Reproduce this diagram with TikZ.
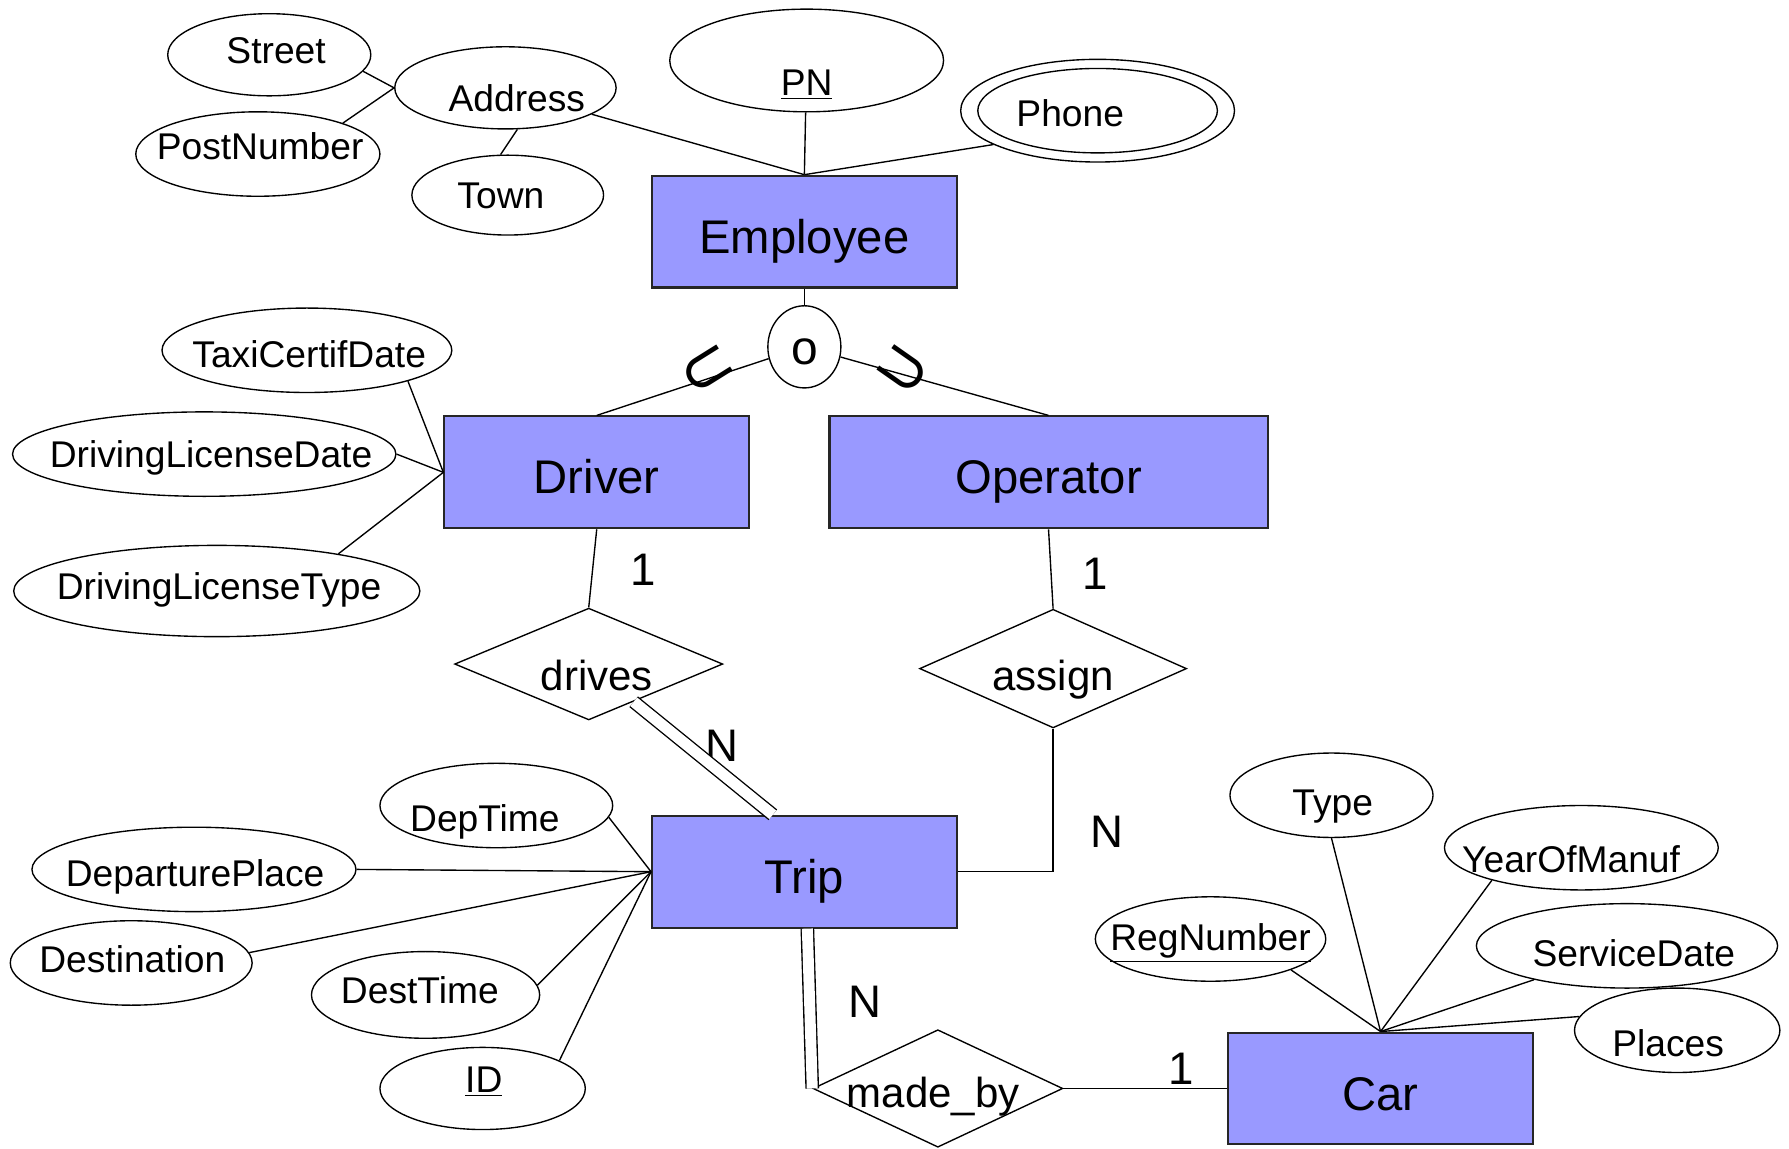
\documentclass[tikz,border=0pt]{standalone}
\usepackage{fontspec}
\setmainfont{Liberation Sans}
\newfontfamily\symfont{DejaVu Sans}
\usetikzlibrary{shapes.geometric}

\definecolor{entityblue}{RGB}{153,153,255}
% text of a shape: x offset, y offset (down), text
\newcommand{\ertxt}[3]{\raisebox{\dimexpr-0.36em-#2\relax}[0pt][0pt]{\makebox[0pt]{\hspace{\dimexpr2\dimexpr#1\relax\relax}#3}}}

\tikzset{
  entity/.style={draw=black!85, line width=0.9pt, fill=entityblue, minimum width=133.5pt, minimum height=49pt, inner sep=0pt, font=\fontsize{20.7}{24}\selectfont},
  attr/.style={draw, ellipse, inner sep=0pt, font=\fontsize{16.3}{19}\selectfont},
  rel/.style={draw, diamond, inner sep=0pt, font=\fontsize{18.4}{22}\selectfont},
  card/.style={inner sep=0pt, font=\fontsize{20}{24}\selectfont},
  subsym/.style={inner sep=0pt, font=\symfont\fontsize{29}{32}\selectfont},
  twice/.style={double, double distance=4.8pt},
}

\begin{document}
\begin{tikzpicture}[x=0.5pt, y=-0.5pt, line width=0.6pt]
\useasboundingbox (0,0) rectangle (1568,1007);

\node[entity] (employee) at (705,203) {\ertxt{0pt}{2pt}{Employee}};
\node[entity] (driver) at (523,414) {\ertxt{0pt}{2pt}{Driver}};
\node[entity, minimum width=192pt] (operator) at (919,414) {\ertxt{0pt}{2pt}{Operator}};
\node[entity] (trip) at (705,764) {\ertxt{0pt}{2pt}{Trip}};
\node[entity] (car) at (1210,954) {\ertxt{0pt}{2pt}{Car}};

\node[draw, ellipse, minimum width=32pt, minimum height=36pt, inner sep=0pt, font=\fontsize{21}{24}\selectfont] (disj) at (705,304) {\ertxt{0pt}{0pt}{o}};
\node[subsym, rotate=32] (subleft) at (621,326) {⊂};
\node[subsym, rotate=-35] (subright) at (790,326) {⊃};

\node[rel, minimum width=117.5pt, minimum height=49pt] (drives) at (516,582) {\ertxt{3.5pt}{5pt}{drives}};
\node[rel, minimum width=117pt, minimum height=52pt] (assign) at (923,586) {\ertxt{0pt}{3pt}{assign}};
\node[rel, minimum width=109.5pt, minimum height=51.5pt] (madeby) at (822,954) {\ertxt{-2pt}{1.5pt}{made\_by}};

\node[attr, minimum width=89pt, minimum height=36pt] (street) at (236,48) {\ertxt{3pt}{-2pt}{Street}};
\node[attr, minimum width=97pt, minimum height=36pt] (address) at (443,77) {\ertxt{5pt}{4.5pt}{Address}};
\node[attr, minimum width=107pt, minimum height=37pt] (postnumber) at (226,135) {\ertxt{1pt}{-3.5pt}{PostNumber}};
\node[attr, minimum width=84pt, minimum height=35pt] (town) at (445,171) {\ertxt{-3pt}{0pt}{Town}};
\node[attr, minimum width=120pt, minimum height=45pt] (pn) at (707,53) {\ertxt{0pt}{9.5pt}{\underline{PN}}};
\node[attr, minimum width=120pt, minimum height=45pt] (phone) at (962,97) {};
\node[attr, minimum width=105pt, minimum height=37pt] (phonein) at (962,97) {\ertxt{-12pt}{1pt}{Phone}};

\node[attr, minimum width=127pt, minimum height=37pt] (taxicertif) at (269,307) {\ertxt{1pt}{1.5pt}{TaxiCertifDate}};
\node[attr, minimum width=168pt, minimum height=37pt] (licensedate) at (179,398) {\ertxt{3pt}{0pt}{DrivingLicenseDate}};
\node[attr, minimum width=178pt, minimum height=40pt] (licensetype) at (190,518) {\ertxt{1pt}{-2pt}{DrivingLicenseType}};

\node[attr, minimum width=102pt, minimum height=37pt] (deptime) at (435,706) {\ertxt{-5pt}{5.5pt}{DepTime}};
\node[attr, minimum width=142pt, minimum height=37pt] (depplace) at (170,762) {\ertxt{0.5pt}{1.5pt}{DeparturePlace}};
\node[attr, minimum width=106pt, minimum height=37pt] (destination) at (115,844) {\ertxt{0.5pt}{-1.5pt}{Destination}};
\node[attr, minimum width=100pt, minimum height=38pt] (desttime) at (373,872) {\ertxt{-2.5pt}{-2pt}{DestTime}};
\node[attr, minimum width=90pt, minimum height=36pt] (id) at (423,954) {\ertxt{0.5pt}{-4pt}{\underline{ID}}};

\node[attr, minimum width=89pt, minimum height=37pt] (type) at (1167,697) {\ertxt{0.5pt}{3pt}{Type}};
\node[attr, minimum width=120pt, minimum height=37pt] (yearofmanuf) at (1386,743) {\ertxt{-4.5pt}{5pt}{YearOfManuf}};
\node[attr, minimum width=101pt, minimum height=37pt] (regnumber) at (1061,823) {\ertxt{0pt}{-1pt}{\underline{RegNumber}}};
\node[attr, minimum width=132pt, minimum height=37pt] (servicedate) at (1426,829) {\ertxt{3pt}{3pt}{ServiceDate}};
\node[attr, minimum width=90pt, minimum height=37pt] (places) at (1470,903) {\ertxt{-4pt}{5.5pt}{Places}};

\node[card] (drivesone) at (564,499) {1};
\node[card] (assignone) at (960,503) {1};
\node[card] (drivesn) at (633,654) {N};
\node[card] (assignn) at (970,729) {N};
\node[card] (madebyn) at (758,878) {N};
\node[card] (madebyone) at (1035,937) {1};

\draw (street.-10) -- (address.west);
\draw (postnumber.20) -- (address.west);
\draw (town.100) -- (address.-74);
\draw (address.-17) -- (employee.north);
\draw (pn) -- (employee.north);
\draw (phone.-162) -- (employee.north);
\draw (employee) -- (disj);
\draw (disj) -- (driver.north);
\draw (disj) -- (operator.north);

\draw (taxicertif.-17) -- (driver.west);
\draw (licensedate.east) -- (driver.west);
\draw (licensetype.17) -- (driver.west);

\draw (deptime.-6) -- (trip.west);
\draw (depplace.east) -- (trip.west);
\draw (destination.5) -- (trip.west);
\draw (desttime.5) -- (trip.west);
\draw (id.20) -- (trip.west);

\draw (type.south) -- (car.north);
\draw (yearofmanuf.-160) -- (car.north);
\draw (regnumber.-21) -- (car.north);
\draw (servicedate.-160) -- (car.north);
\draw (places.172) -- (car.north);

\draw (driver.south) -- (drives.north);
\draw[twice] (drives.-40) -- (trip.119);
\draw (operator.south) -- (assign.north);
\draw (assign.south) |- (trip.east);
\draw[twice] (trip.-87) -- (madeby.west);
\draw (madeby.east) -- (car.west);
\end{tikzpicture}
\end{document}
